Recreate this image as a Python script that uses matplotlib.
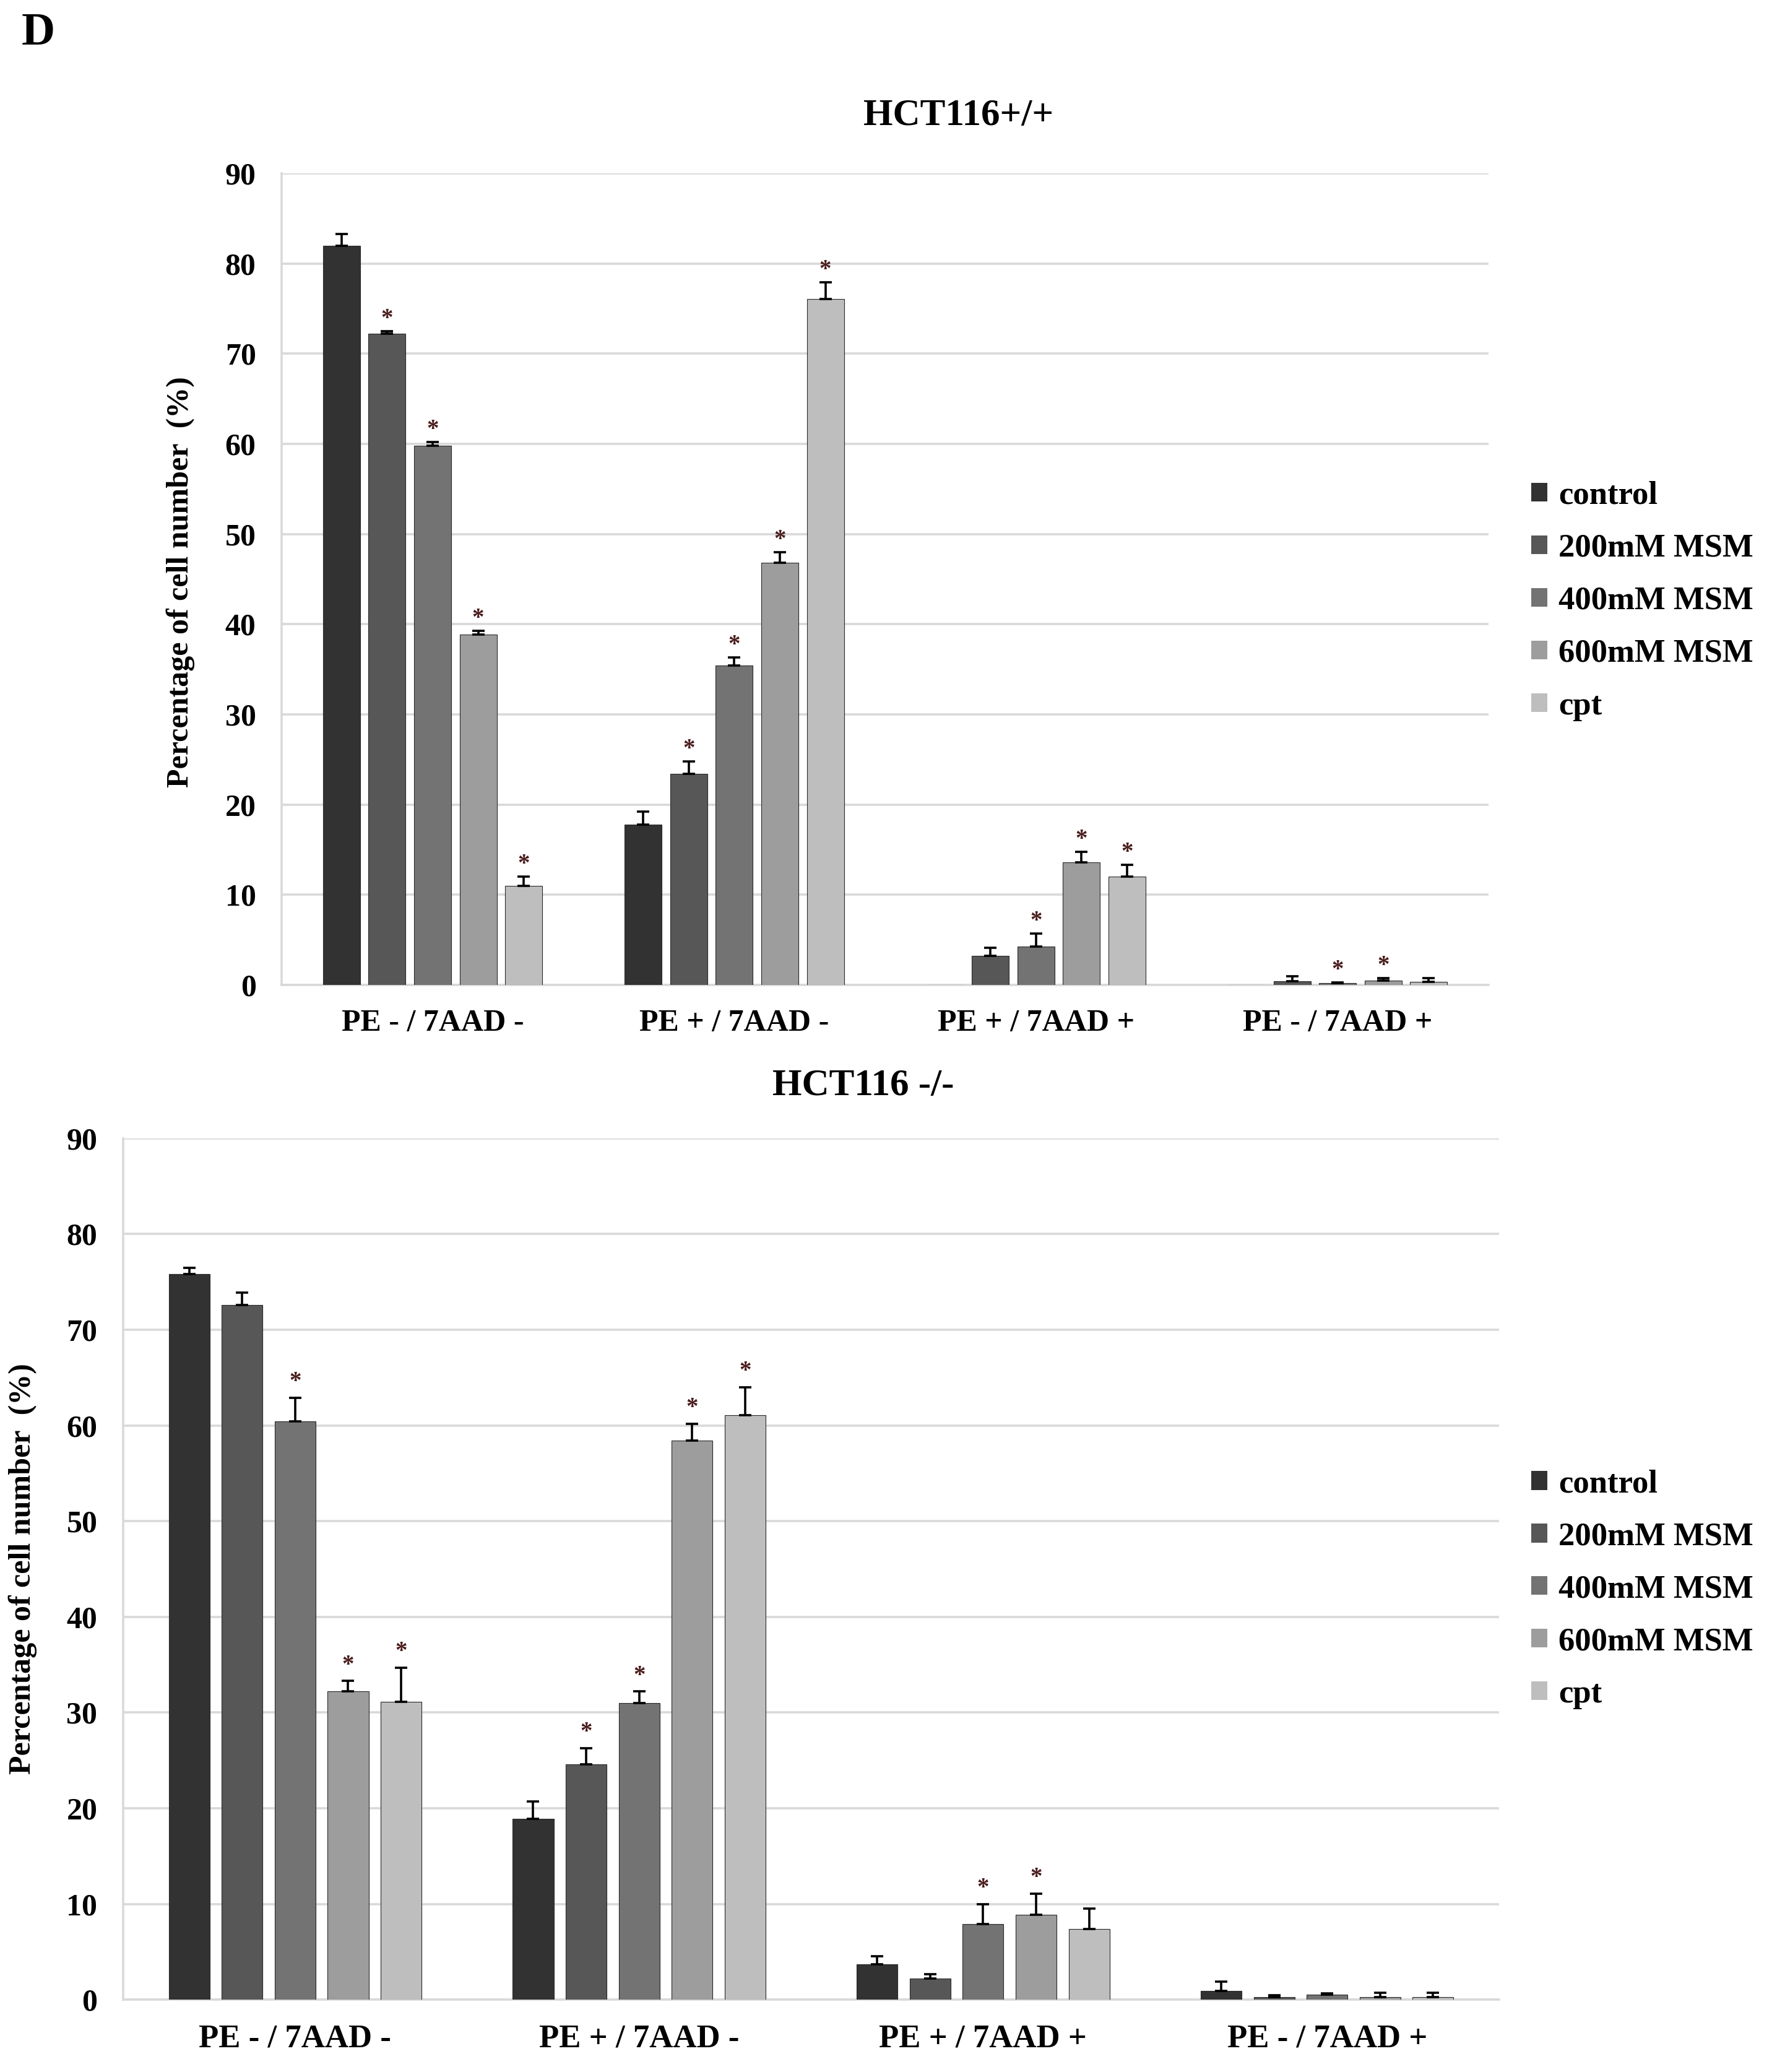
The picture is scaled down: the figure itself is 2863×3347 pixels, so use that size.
import matplotlib
matplotlib.use("Agg")
import matplotlib.pyplot as plt
import numpy as np
from matplotlib.patches import Patch

plt.rcParams["font.family"] = ["Liberation Serif", "DejaVu Serif"]
plt.rcParams["font.weight"] = "bold"

categories = ["PE - / 7AAD -", "PE + / 7AAD -", "PE + / 7AAD +", "PE - / 7AAD +"]
series_names = ["control", "200mM MSM", "400mM MSM", "600mM MSM", "cpt"]
series_colors = ["#323232", "#575757", "#737373", "#9d9d9d", "#bebebe"]
yticks = [0, 10, 20, 30, 40, 50, 60, 70, 80, 90]

# HCT116+/+ (rows = series, columns = categories)
wt_control = [82.0, 17.8, 0.0, 0.0]
wt_200 = [72.2, 23.4, 3.25, 0.45]
wt_400 = [59.8, 35.4, 4.3, 0.2]
wt_600 = [38.9, 46.8, 13.6, 0.5]
wt_cpt = [11.0, 76.1, 12.0, 0.35]
wt_control_err = [1.3, 1.4, 0.0, 0.0]
wt_200_err = [0.3, 1.4, 0.9, 0.5]
wt_400_err = [0.4, 0.9, 1.4, 0.1]
wt_600_err = [0.4, 1.2, 1.15, 0.25]
wt_cpt_err = [1.0, 1.8, 1.3, 0.4]
wt_sig = [[0, 0, 0, 0], [1, 1, 0, 0], [1, 1, 1, 1], [1, 1, 1, 1], [1, 1, 1, 0]]

# HCT116 -/-
ko_control = [75.8, 18.9, 3.7, 0.9]
ko_200 = [72.6, 24.6, 2.2, 0.3]
ko_400 = [60.4, 31.0, 7.9, 0.5]
ko_600 = [32.2, 58.4, 8.9, 0.3]
ko_cpt = [31.1, 61.1, 7.4, 0.3]
ko_control_err = [0.7, 1.8, 0.85, 1.0]
ko_200_err = [1.3, 1.7, 0.45, 0.15]
ko_400_err = [2.5, 1.2, 2.1, 0.15]
ko_600_err = [1.1, 1.8, 2.2, 0.4]
ko_cpt_err = [3.6, 2.9, 2.1, 0.4]
ko_sig = [[0, 0, 0, 0], [0, 1, 0, 0], [1, 1, 1, 0], [1, 1, 1, 0], [1, 1, 0, 0]]

GRID = "#d9d9d9"
STAR = "#4a1c1c"


def draw_panel(ax, means, errs, sig, slot, width, star_off, xfs):
    x = np.arange(len(categories))
    n = len(means)
    for i, (m, e) in enumerate(zip(means, errs)):
        pos = x + (i - (n - 1) / 2) * slot
        m = np.array(m)
        e = np.array(e)
        ax.bar(pos, m, width, color=series_colors[i], edgecolor="#2a2a2a",
               linewidth=0.4, zorder=3)
        show = m > 0
        ax.errorbar(pos[show], m[show], yerr=[np.zeros(show.sum()), e[show]],
                    fmt="none", ecolor="black", elinewidth=1.3, capsize=3.5,
                    capthick=1.3, zorder=4)
        for j in range(len(categories)):
            if sig[i][j]:
                ax.annotate("*", (pos[j], m[j] + e[j]), xytext=(0, star_off),
                            textcoords="offset points", ha="center", va="center",
                            fontsize=14, color=STAR, fontweight="bold")
    ax.set_xlim(-0.5, len(categories) - 0.5)
    ax.set_ylim(0, 90)
    ax.set_yticks(yticks)
    ax.set_xticks(x)
    ax.set_xticklabels(categories, fontsize=xfs, fontweight="bold")
    ax.tick_params(axis="y", length=0, pad=15, labelsize=18)
    ax.tick_params(axis="x", length=0, pad=14)
    ax.grid(axis="y", color=GRID, linewidth=1.3, zorder=0)
    ax.set_axisbelow(True)
    for s in ("top", "right"):
        ax.spines[s].set_visible(False)
    for s in ("left", "bottom"):
        ax.spines[s].set_color(GRID)
        ax.spines[s].set_linewidth(1.3)


fig = plt.figure(figsize=(14.315, 16.735), dpi=200)

ax1 = fig.add_axes([0.159, 0.5246, 0.681, 0.3917])
draw_panel(ax1,
           [wt_control, wt_200, wt_400, wt_600, wt_cpt],
           [wt_control_err, wt_200_err, wt_400_err, wt_600_err, wt_cpt_err],
           wt_sig, slot=0.151, width=0.123, star_off=7, xfs=18)
ax1.set_ylabel("Percentage of cell number  (%)", fontsize=18, fontweight="bold")
ax1.yaxis.set_label_coords(0.110, 0.719, transform=fig.transFigure)

ax2 = fig.add_axes([0.0695, 0.0349, 0.7765, 0.4157])
draw_panel(ax2,
           [ko_control, ko_200, ko_400, ko_600, ko_cpt],
           [ko_control_err, ko_200_err, ko_400_err, ko_600_err, ko_cpt_err],
           ko_sig, slot=0.154, width=0.119, star_off=9, xfs=19)
ax2.set_ylabel("Percentage of cell number  (%)", fontsize=18, fontweight="bold")
ax2.yaxis.set_label_coords(0.021, 0.243, transform=fig.transFigure)

fig.text(0.541, 0.944, "HCT116+/+", ha="center", va="center", fontsize=22, fontweight="bold")
fig.text(0.487, 0.476, "HCT116 -/-", ha="center", va="center", fontsize=22, fontweight="bold")
fig.text(0.012, 0.984, "D", ha="left", va="center", fontsize=27, fontweight="bold")

handles = [Patch(facecolor=c, edgecolor="none") for c in series_colors]
for yc in (0.710, 0.233):
    fig.legend(handles, series_names, loc="center left", bbox_to_anchor=(0.864, yc),
               frameon=False, handlelength=0.5, handleheight=0.5,
               handletextpad=0.35, labelspacing=0.7, borderpad=0, borderaxespad=0,
               prop={"weight": "bold", "size": 19})

fig.savefig("out.png", dpi=200)
